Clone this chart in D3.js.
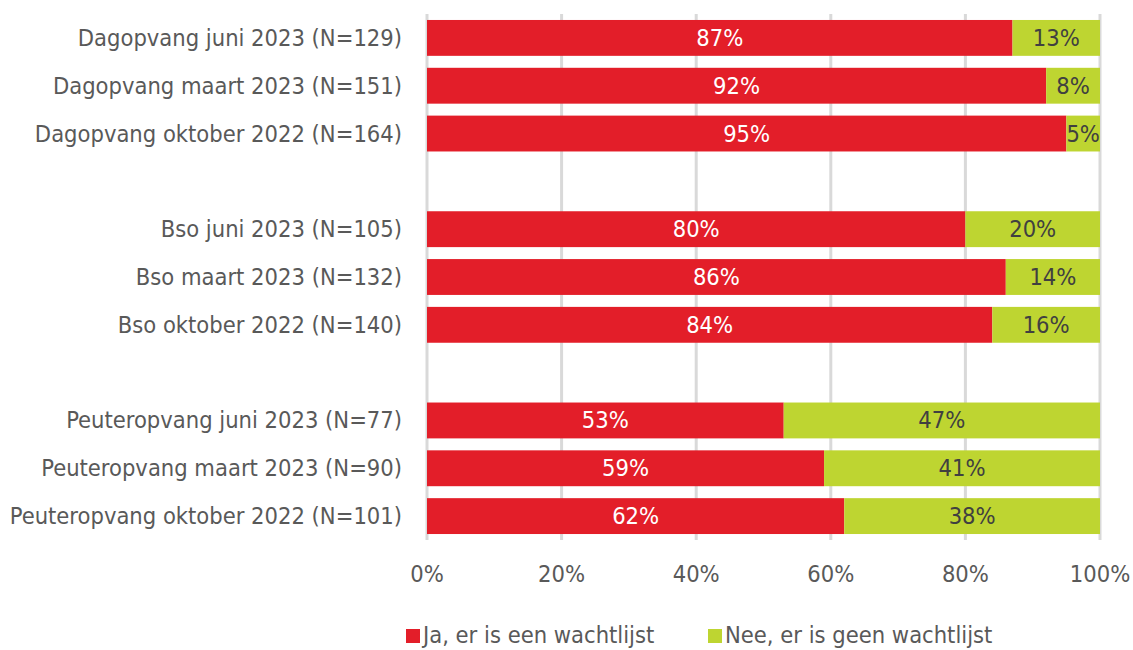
<!DOCTYPE html>
<html>
<head>
<meta charset="utf-8">
<script src="https://cdn.jsdelivr.net/npm/d3@7"></script>
<style>
  body { margin: 0; background: #fff; }
  svg text { font-family: "DejaVu Sans Condensed", "DejaVu Sans", sans-serif; font-stretch: condensed; }
</style>
</head>
<body>
<div id="chart"></div>
<script>
// rows top to bottom, blank strings are the gaps between groups
const categories = [
  "Dagopvang juni 2023 (N=129)",
  "Dagopvang maart 2023 (N=151)",
  "Dagopvang oktober 2022 (N=164)",
  "",
  "Bso juni 2023 (N=105)",
  "Bso maart 2023 (N=132)",
  "Bso oktober 2022 (N=140)",
  " ",
  "Peuteropvang juni 2023 (N=77)",
  "Peuteropvang maart 2023 (N=90)",
  "Peuteropvang oktober 2022 (N=101)"
];
const jaValues  = [87, 92, 95, null, 80, 86, 84, null, 53, 59, 62];
const neeValues = [13, 8, 5, null, 20, 14, 16, null, 47, 41, 38];
const seriesNames = ["Ja, er is een wachtlijst", "Nee, er is geen wachtlijst"];
const seriesColors = ["#e31e29", "#bed531"];
const xTicks = [0, 20, 40, 60, 80, 100];

const width = 1133, height = 650;
const margin = { top: 14, left: 427, right: 33 };
const plotBottom = 540;
const fontSize = 23.5;

const svg = d3.select("#chart").append("svg")
  .attr("width", width)
  .attr("height", height);

const x = d3.scaleLinear().domain([0, 100]).range([margin.left, width - margin.right]);
const y = d3.scaleBand().domain(categories)
  .range([margin.top, plotBottom])
  .paddingInner(0.25).paddingOuter(0.125);

// gridlines
svg.append("g")
  .selectAll("line")
  .data(xTicks)
  .join("line")
  .attr("x1", d => x(d)).attr("x2", d => x(d))
  .attr("y1", margin.top).attr("y2", plotBottom)
  .attr("stroke", "#d9d9d9")
  .attr("stroke-width", 3);

// tick labels
svg.append("g")
  .selectAll("text")
  .data(xTicks)
  .join("text")
  .attr("x", d => x(d))
  .attr("y", 574)
  .attr("text-anchor", "middle")
  .attr("dominant-baseline", "central")
  .attr("font-size", fontSize)
  .attr("fill", "#595959")
  .text(d => d + "%");

// category labels
svg.append("g")
  .selectAll("text")
  .data(categories.filter(c => c.trim() !== ""))
  .join("text")
  .attr("x", 402)
  .attr("y", d => y(d) + y.bandwidth() / 2)
  .attr("text-anchor", "end")
  .attr("dominant-baseline", "central")
  .attr("font-size", fontSize)
  .attr("fill", "#595959")
  .text(d => d);

const rows = categories.map((c, i) => ({ cat: c, ja: jaValues[i], nee: neeValues[i] }))
  .filter(r => r.ja !== null);

const bars = svg.append("g");
rows.forEach(r => {
  const segs = [
    { x0: 0, x1: r.ja, v: r.ja, color: seriesColors[0], text: "#ffffff" },
    { x0: r.ja, x1: r.ja + r.nee, v: r.nee, color: seriesColors[1], text: "#404040" }
  ];
  segs.forEach(s => {
    bars.append("rect")
      .attr("x", x(s.x0))
      .attr("y", y(r.cat))
      .attr("width", x(s.x1) - x(s.x0))
      .attr("height", y.bandwidth())
      .attr("fill", s.color);
    bars.append("text")
      .attr("x", (x(s.x0) + x(s.x1)) / 2)
      .attr("y", y(r.cat) + y.bandwidth() / 2)
      .attr("text-anchor", "middle")
      .attr("dominant-baseline", "central")
      .attr("font-size", fontSize)
      .attr("fill", s.text)
      .text(s.v + "%");
  });
});

// legend
const legend = svg.append("g");
const legendX = [406, 708];
seriesNames.forEach((name, i) => {
  legend.append("rect")
    .attr("x", legendX[i]).attr("y", 629)
    .attr("width", 14).attr("height", 14)
    .attr("fill", seriesColors[i]);
  legend.append("text")
    .attr("x", legendX[i] + 17).attr("y", 635)
    .attr("dominant-baseline", "central")
    .attr("font-size", fontSize)
    .attr("fill", "#595959")
    .text(name);
});
</script>
</body>
</html>
